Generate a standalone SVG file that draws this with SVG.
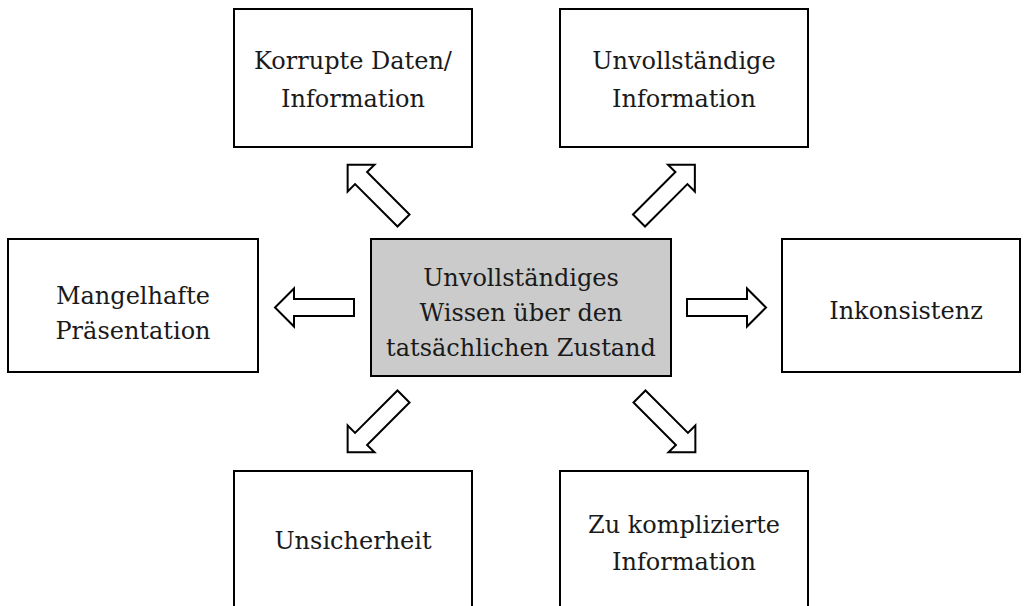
<svg xmlns="http://www.w3.org/2000/svg" width="1024" height="606" viewBox="0 0 1024 606">
<style>
.box{fill:#fff;stroke:#000;stroke-width:2}
.main{fill:#cbcbcb;stroke:#000;stroke-width:2}
.t{font-family:"DejaVu Serif","Liberation Serif",serif;font-size:24px;fill:#1a1a1a;text-anchor:middle}
.arr{fill:#fff;stroke:#000;stroke-width:2;stroke-linejoin:miter}
</style>
<defs>
<path id="a" d="M0,-8.5 L60,-8.5 L60,-19 L79,0 L60,19 L60,8.5 L0,8.5 Z"/>
</defs>
<rect width="1024" height="606" fill="#fff"/>
<g id="n-center"><rect class="main" x="371" y="239" width="300" height="137"/>
<text class="t" x="521" y="286">Unvollständiges</text>
<text class="t" x="521" y="321">Wissen über den</text>
<text class="t" x="521" y="356">tatsächlichen Zustand</text></g>
<g id="n-korrupt"><rect class="box" x="234" y="9" width="238" height="138"/>
<text class="t" x="353" y="69">Korrupte Daten/</text>
<text class="t" x="353" y="107">Information</text></g>
<g id="n-unvoll"><rect class="box" x="560" y="9" width="248" height="138"/>
<text class="t" x="684" y="69">Unvollständige</text>
<text class="t" x="684" y="107">Information</text></g>
<g id="n-mangel"><rect class="box" x="8" y="239" width="250" height="133"/>
<text class="t" x="133" y="304">Mangelhafte</text>
<text class="t" x="133" y="339">Präsentation</text></g>
<g id="n-inkon"><rect class="box" x="782" y="239" width="238" height="133"/>
<text class="t" x="906" y="319">Inkonsistenz</text></g>
<g id="n-unsicher"><rect class="box" x="234" y="471" width="238" height="140"/>
<text class="t" x="353" y="549">Unsicherheit</text></g>
<g id="n-kompl"><rect class="box" x="560" y="471" width="248" height="140"/>
<text class="t" x="684" y="533">Zu komplizierte</text>
<text class="t" x="684" y="570">Information</text></g>
<g id="connectors">
<use href="#a" class="arr" transform="translate(354,307.5) rotate(180)"/>
<use href="#a" class="arr" transform="translate(687,307.5)"/>
<use href="#a" class="arr" transform="translate(403.5,220.5) rotate(225)"/>
<use href="#a" class="arr" transform="translate(639,220.5) rotate(-45)"/>
<use href="#a" class="arr" transform="translate(403.5,396.5) rotate(135)"/>
<use href="#a" class="arr" transform="translate(639.5,396.5) rotate(45)"/>
</g>
</svg>
